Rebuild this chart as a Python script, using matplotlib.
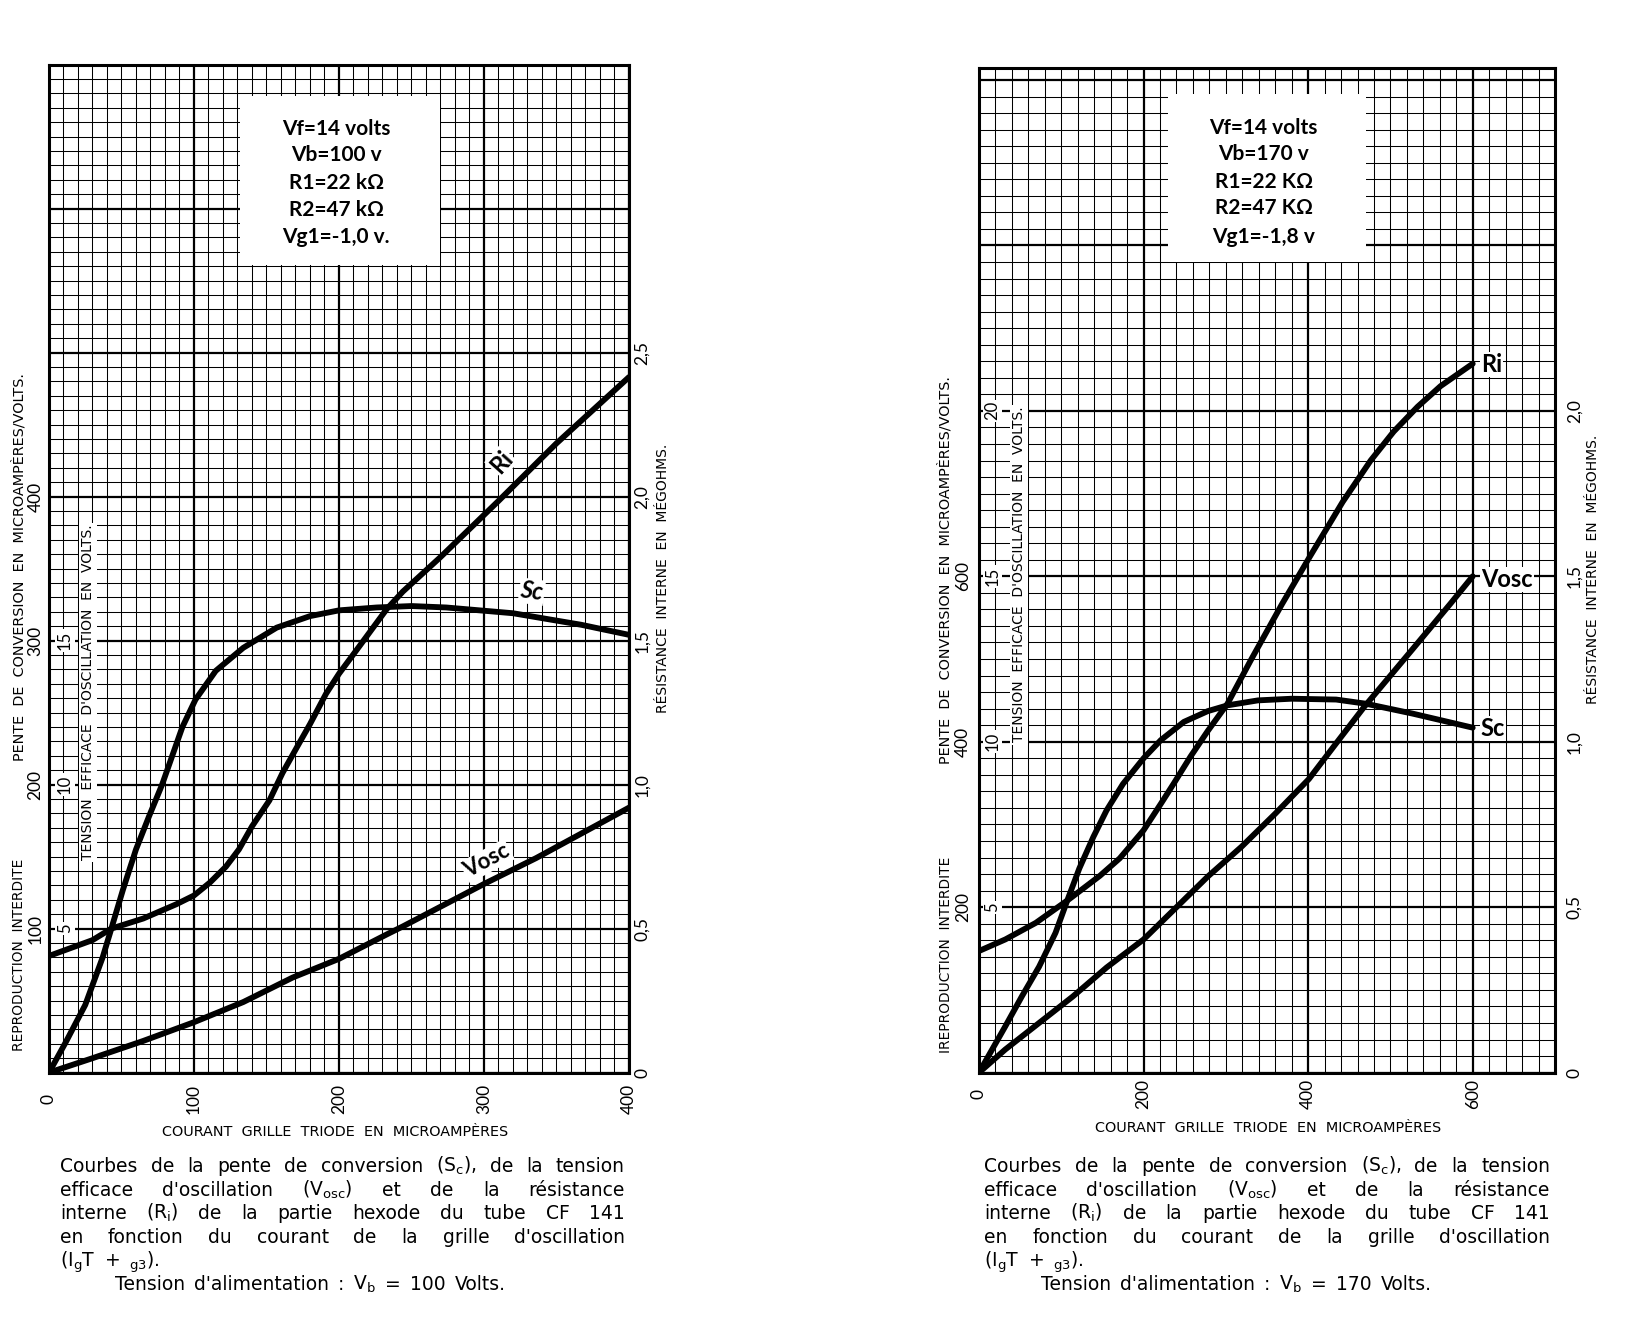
import matplotlib
matplotlib.use("Agg")
import matplotlib.pyplot as plt
import matplotlib.transforms as mtransforms
from matplotlib.patches import Rectangle

plt.rcParams['font.family'] = ['Lato', 'DejaVu Sans']
plt.rcParams['mathtext.default'] = 'regular'
WIDE = ['DejaVu Sans']

W, H = 1633, 1321

# ---- chart 1 : Vb = 100 V ----
sc1_x = [0, 11.5, 25, 37, 43, 51, 60, 69, 78, 85, 92, 101, 115, 134, 157, 180, 200, 226,
         250, 274, 320, 367, 400]
sc1_y = [0, 21, 47, 80, 100, 127, 155, 178, 200, 220, 240, 259, 279, 295, 309, 317, 321,
         323, 324, 323, 319, 311, 304]
ri1_x = [0, 30, 43, 65, 88, 100, 111, 122, 131, 140, 152, 161, 171, 180, 191, 200, 214,
         233, 244, 270, 310, 350, 400]
ri1_y = [0.405, 0.46, 0.50, 0.535, 0.585, 0.615, 0.66, 0.715, 0.775, 0.855, 0.945, 1.04,
         1.13, 1.21, 1.315, 1.385, 1.48, 1.61, 1.67, 1.79, 1.985, 2.185, 2.415]
vo1_x = [0, 30, 65, 100, 134, 168, 200, 233, 244, 300, 336, 400]
vo1_y = [0, 0.5, 1.1, 1.75, 2.45, 3.3, 3.95, 4.8, 5.075, 6.55, 7.45, 9.2]

# ---- chart 2 : Vb = 170 V ----
sc2_x = [0, 32, 52, 73, 93, 108, 122, 139, 155, 175, 200, 221, 249, 278, 302, 339, 380,
         434, 470, 527, 600]
sc2_y = [0, 56, 92, 128, 169, 210, 247, 285, 317, 349, 380, 402, 424, 437, 444, 450, 452,
         451, 446, 434, 417]
ri2_x = [0, 32, 69, 110, 147, 171, 200, 221, 237, 257, 278, 302, 330, 368, 401, 442, 476,
         504, 533, 561, 600]
ri2_y = [0.3675, 0.4025, 0.4525, 0.525, 0.595, 0.6475, 0.7325, 0.8125, 0.875, 0.955,
         1.0325, 1.115, 1.245, 1.415, 1.555, 1.725, 1.85, 1.9375, 2.0125, 2.075, 2.1425]
vo2_x = [0, 32, 73, 114, 155, 200, 237, 278, 319, 360, 401, 434, 468, 527, 573, 600]
vo2_y = [0, 0.7, 1.5, 2.3, 3.175, 4.025, 4.925, 5.925, 6.825, 7.825, 8.875, 9.95, 11.05,
         12.8, 14.175, 15.0]

# tick labels
x1_ticks = [0, 100, 200, 300, 400]
left1_ticks = [100, 200, 300, 400]
right1_ticks = [0, 0.5, 1.0, 1.5, 2.0, 2.5]
volt1_ticks = [5, 10, 15]
x2_ticks = [0, 200, 400, 600]
left2_ticks = [200, 400, 600]
right2_ticks = [0, 0.5, 1.0, 1.5, 2.0]
volt2_ticks = [5, 10, 15, 20]

box1 = ["Vf=14 volts", "Vb=100 v", "R1=22 kΩ", "R2=47 kΩ", "Vg1=-1,0 v."]
box2 = ["Vf=14 volts", "Vb=170 v", "R1=22 KΩ", "R2=47 KΩ", "Vg1=-1,8 v"]

cap_lines = [
    "Courbes de la pente de conversion (S$_c$), de la tension",
    "efficace d'oscillation (V$_{osc}$) et de la résistance",
    "interne (R$_i$) de la partie hexode du tube CF 141",
    "en fonction du courant de la grille d'oscillation",
    "(I$_g$T + $_{g3}$).",
]
cap_last1 = "Tension d'alimentation : V$_b$ = 100 Volts."
cap_last2 = "Tension d'alimentation : V$_b$ = 170 Volts."


def fmt(v):
    return ("%.1f" % v).replace(".", ",") if v != 0 else "0"


def make_chart(rect, xmax, ymax, xmaj, xmin, ri_scale, v_scale):
    ax = fig.add_axes(rect)
    ax.set_xlim(0, xmax)
    ax.set_ylim(0, ymax)
    ax.set_xticks(range(0, xmax + 1, xmaj))
    ax.set_xticks(range(0, xmax + 1, xmin), minor=True)
    ax.set_yticks(range(0, int(ymax) + 1, xmaj))
    ax.set_yticks(range(0, int(ymax) + 1, xmin), minor=True)
    ax.grid(which='major', color='black', lw=1.6)
    ax.grid(which='minor', color='black', lw=0.75)
    ax.set_axisbelow(True)
    ax.tick_params(which='both', length=0, labelbottom=False, labelleft=False)
    for s in ax.spines.values():
        s.set_linewidth(2.2)
    ax_ri = ax.twinx()
    ax_ri.set_ylim(0, ymax / ri_scale)
    ax_ri.axis('off')
    ax_v = ax.twinx()
    ax_v.set_ylim(0, ymax / v_scale)
    ax_v.axis('off')
    return ax, ax_ri, ax_v


def side_labels(ax, ax_ri, ax_v, xt, lt, rt, vt, pos):
    tl = mtransforms.blended_transform_factory(ax.transAxes, ax.transData)
    tr = mtransforms.blended_transform_factory(ax.transAxes, ax_ri.transData)
    tv = mtransforms.blended_transform_factory(ax.transData, ax_v.transData)
    tb = mtransforms.blended_transform_factory(ax.transData, ax.transAxes)
    for v in lt:
        ax.text(pos['left'], v, str(v), transform=tl, rotation=90, ha='center',
                va='center', fontsize=12.5)
    for v in rt:
        ax.text(pos['right'], v, fmt(v), transform=tr, rotation=90, ha='center',
                va='center', fontsize=12.5)
    for v in vt:
        ax.text(pos['volt_x'], v, str(v), transform=tv, rotation=90, ha='center',
                va='center', fontsize=12, zorder=4,
                bbox=dict(boxstyle='square,pad=0.1', fc='white', ec='none'))
    for v in xt:
        ax.text(v, pos['bottom'], str(v), transform=tb, rotation=90, ha='center',
                va='center', fontsize=12.5)
    ax.text(pos['tens_x'], pos['tens_y'], "TENSION  EFFICACE  D'OSCILLATION  EN  VOLTS.",
            transform=tv, rotation=90, ha='center', va='center', fontsize=10, zorder=4,
            family=WIDE, bbox=dict(boxstyle='square,pad=0.15', fc='white', ec='none'))
    ax.text(pos['outer'], pos['repro_y'], pos['repro'], transform=tl, rotation=90,
            ha='center', va='center', fontsize=9.9, family=WIDE)
    ax.text(pos['outer'], pos['pente_y'], "PENTE  DE  CONVERSION  EN  MICROAMPÈRES/VOLTS.",
            transform=tl, rotation=90, ha='center', va='center', fontsize=10.4, family=WIDE)
    ax.text(pos['res_x'], pos['res_y'], "RÉSISTANCE  INTERNE  EN  MÉGOHMS.",
            transform=tl, rotation=90, ha='center', va='center', fontsize=10, family=WIDE)
    ax.text(pos['xl_x'], pos['xl_y'], "COURANT  GRILLE  TRIODE  EN  MICROAMPÈRES",
            transform=tb, ha='center', va='center', fontsize=10.4, family=WIDE)


def info_box(ax, lines, x0, x1, y0, y1, ys, xc):
    ax.add_patch(Rectangle((x0, y0), x1 - x0, y1 - y0, fc='white', ec='none', zorder=2))
    for s, y in zip(lines, ys):
        ax.text(xc, y, s, ha='center', va='center', fontsize=15, fontweight='bold',
                zorder=3)


def caption(lines, last, x0, x1, xlast, y0, dy):
    r = fig.canvas.get_renderer()
    allines = lines + [last]
    for i, line in enumerate(allines):
        yb = 1 - (y0 + i * dy) / H
        words = line.split(' ')
        texts = [fig.text(0, yb, w, fontsize=13.5, va='baseline', family=WIDE)
                 for w in words]
        widths = [t.get_window_extent(r).width for t in texts]
        if i < len(lines) - 1:
            gap = (x1 - x0 - sum(widths)) / (len(words) - 1)
            x = x0
        else:
            gap = 9
            x = x0 if i == len(lines) - 1 else xlast
        for t, w in zip(texts, widths):
            t.set_x(x / W)
            x += w + gap


fig = plt.figure(figsize=(W / 100, H / 100), dpi=100)

lw = 4.2
cv = dict(color='black', lw=lw, solid_capstyle='round', solid_joinstyle='round')
bb = dict(boxstyle='square,pad=0.05', fc='white', ec='none')
# chart 1
ax, ax_ri, ax_v = make_chart([49 / W, 1 - 1072.6 / H, 580 / W, 1008 / H],
                             400, 700, 100, 10, 200, 20)
ax.plot(sc1_x, sc1_y, **cv)
ax_ri.plot(ri1_x, ri1_y, **cv)
ax_v.plot(vo1_x, vo1_y, **cv)
ax_ri.text(312, 2.12, "Ri", rotation=48, ha='center', va='center', fontsize=17,
           fontweight='bold', bbox=bb)
ax.text(333, 334, "Sc", rotation=-8, ha='center', va='center', fontsize=17,
        fontweight='bold', style='italic', bbox=bb)
ax_v.text(302, 7.35, "Vosc", rotation=28, ha='center', va='center', fontsize=16,
          fontweight='bold', bbox=bb)
info_box(ax, box1, 132, 270, 561, 678, [655, 637, 618, 599, 580], 198)
side_labels(ax, ax_ri, ax_v, x1_ticks, left1_ticks, right1_ticks, volt1_ticks,
            dict(left=-0.023, right=1.023, volt_x=11, bottom=-0.026, tens_x=27,
                 tens_y=13.2, outer=-0.052, repro="REPRODUCTION  INTERDITE", repro_y=82,
                 pente_y=351, res_x=1.059, res_y=343, xl_x=197, xl_y=-0.059))

# chart 2
ax2, ax2_ri, ax2_v = make_chart([979 / W, 1 - 1072.6 / H, 576 / W, 1005 / H],
                                700, 1215, 200, 20, 400, 40)
ax2.plot(sc2_x, sc2_y, **cv)
ax2_ri.plot(ri2_x, ri2_y, **cv)
ax2_v.plot(vo2_x, vo2_y, **cv)
lab = dict(ha='left', va='center', fontsize=17, fontweight='bold', bbox=bb)
ax2_ri.text(610, 2.14, "Ri", **lab)
ax2_v.text(610, 14.9, "Vosc", **lab)
ax2.text(610, 416, "Sc", **lab)
info_box(ax2, box2, 230, 470, 980, 1183, [1142, 1110, 1077, 1045, 1010], 346)
side_labels(ax2, ax2_ri, ax2_v, x2_ticks, left2_ticks, right2_ticks, volt2_ticks,
            dict(left=-0.028, right=1.034, volt_x=16.5, bottom=-0.021, tens_x=49,
                 tens_y=15.05, outer=-0.058, repro="IREPRODUCTION  INTERDITE",
                 repro_y=142, pente_y=608, res_x=1.066, res_y=608, xl_x=351,
                 xl_y=-0.055))

caption(cap_lines, cap_last1, 60, 625, 115, 1172, 23.6)
caption(cap_lines, cap_last2, 984, 1550, 1041, 1172, 23.6)

fig.savefig("out.png", dpi=100, facecolor='white')
